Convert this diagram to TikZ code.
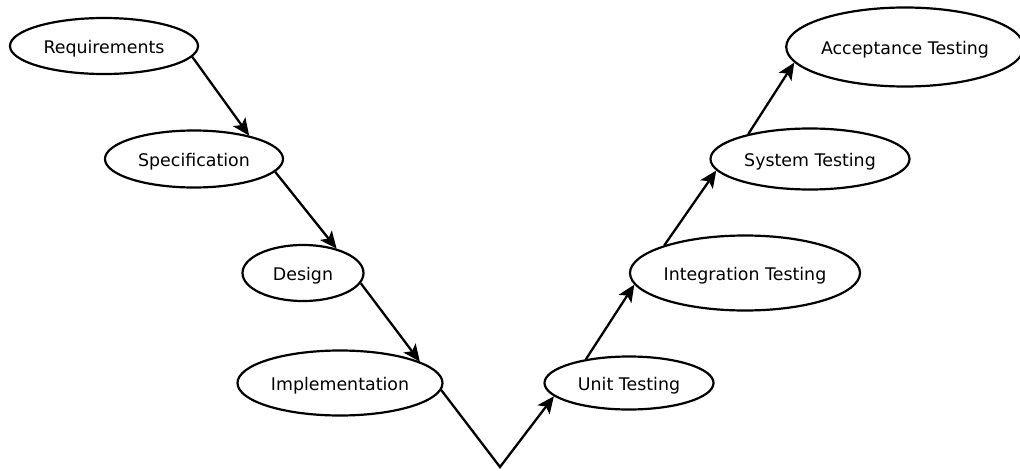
\documentclass[tikz,border=0pt]{standalone}
\usepackage{fontspec}
\setmainfont{DejaVu Sans}
\usetikzlibrary{shapes.geometric,arrows.meta}
\begin{document}
\begin{tikzpicture}[x=1pt,y=-1pt,
  phase/.style={draw=black, line width=2.2pt, ellipse, inner sep=0pt, fill=white,
    font=\fontsize{17.4}{20}\selectfont, text height=15pt, text depth=0.4pt},
  flow/.style={line width=2.3pt, -{Stealth[length=17pt,width=15pt,inset=4pt]}}]
\useasboundingbox (0,0) rectangle (1020,471);
\node[phase, minimum width=188pt, minimum height=56pt] (req) at (104,46) {Requirements};
\node[phase, minimum width=178pt, minimum height=57pt] (spec) at (194,159) {Specification};
\node[phase, minimum width=121pt, minimum height=56pt] (des) at (303,273) {Design};
\node[phase, minimum width=205pt, minimum height=65pt] (impl) at (340,383) {Implementation};
\node[phase, minimum width=169pt, minimum height=53pt] (unit) at (629,383) {Unit Testing};
\node[phase, minimum width=230pt, minimum height=75pt] (integ) at (745,273) {Integration Testing};
\node[phase, minimum width=199pt, minimum height=61pt] (sys) at (810,159) {System Testing};
\node[phase, minimum width=229pt, minimum height=79pt] (acc) at (905,47) {Acceptance Testing};
\coordinate (vbottom) at (500,467);
\draw[flow] (req.-7) -- (spec.23);
\draw[flow] (spec.-9) -- (des.36);
\draw[flow] (des.-10) -- (impl.15);
\draw[flow] (impl.-4) -- (vbottom) -- (unit.190);
\draw[flow] (unit.151) -- (integ.186);
\draw[flow] (integ.161) -- (sys.187);
\draw[flow] (sys.158) -- (acc.188);
\end{tikzpicture}
\end{document}
